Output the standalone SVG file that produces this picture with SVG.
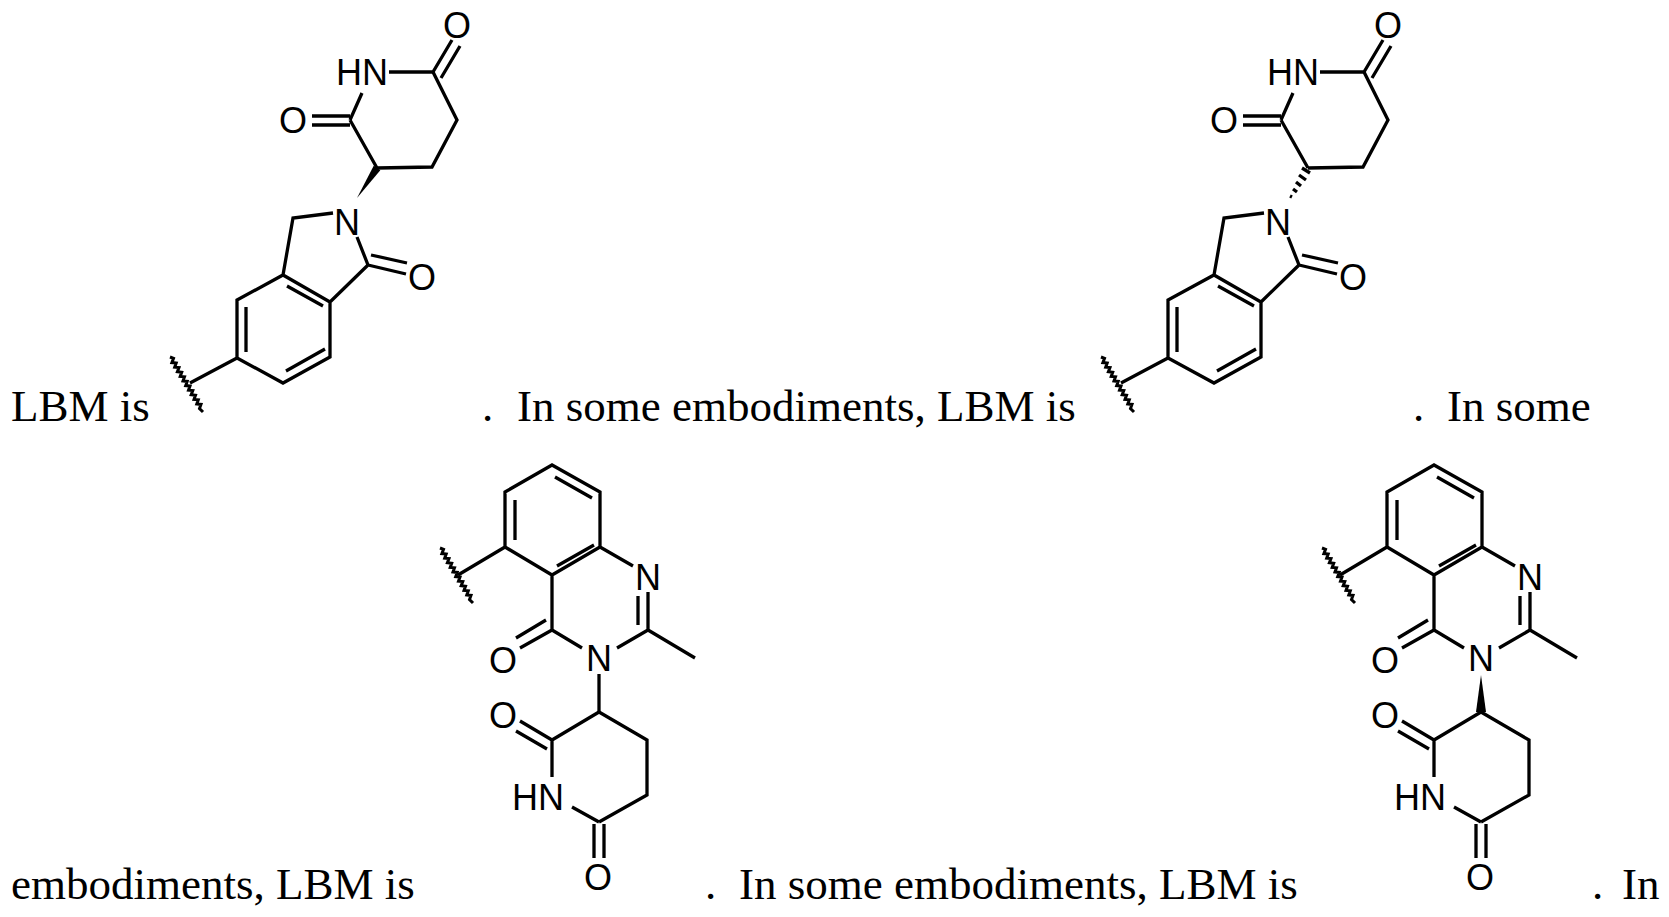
<svg xmlns="http://www.w3.org/2000/svg" xmlns:xlink="http://www.w3.org/1999/xlink" width="1669" height="917" viewBox="0 0 1669 917">
<style>
.b{stroke:#000;stroke-width:3.3;fill:none;stroke-linecap:butt}
.w{stroke:#000;stroke-width:3;fill:none}
.t{font-family:"Liberation Serif","Times New Roman",serif;font-size:45px;fill:#000}
.a{font-family:"Liberation Sans",Arial,sans-serif;font-size:36px;fill:#000;text-anchor:middle}
</style>
<defs>
<path id="wavy" class="w" d="M170,357 L173.5,358.4 L171.9,362.6 L176.2,363 L174.7,367.2 L179,367.6 L177.4,371.8 L181.7,372.2 L180.2,376.4 L184.5,376.8 L183,381 L187.2,381.4 L185.7,385.6 L190,386 L188.5,390.2 L192.8,390.6 L191.2,394.8 L195.5,395.2 L194,399.4 L198.3,399.8 L196.8,404 L201,404.4 L199.5,408.6 L203,412"/>
<g id="iso">
<use xlink:href="#wavy"/>
<path class="b" d="M237,358 L237,300 L283,275 L330,302 L330,357 L283,383 Z M246,307 L246,352 M287,286 L323,306 M325,349 L286,371 M237,358 L190,383 M283,275 L293,218 L333,213 M357,237 L368,265 L330,302 M368,265 L406,274 M371,255 L407,263 M377,168 L350,120 M312,116 L350,116 M312,125 L350,125 M350,120 L362,93 M389,72 L433,72 L457,120 L432,167 L377,168 M433,72 L452,40 M441,78 L460,46"/>
<text class="a" x="362" y="85">HN</text>
<text class="a" x="293" y="133">O</text>
<text class="a" x="457" y="38">O</text>
<text class="a" x="347" y="235">N</text>
<text class="a" x="422" y="290">O</text>
</g>
<g id="quin">
<use xlink:href="#wavy" transform="translate(270,191)"/>
<path class="b" d="M552,465 L505,492 L505,547 L552,575 L600,547 L600,492 Z M515,500 L515,540 M557,566 L594,545 M555,477 L592,498 M505,547 L458,575 M600,547 L633,566 M648,592 L648,630 M638,596 L638,625 M648,630 L695,658 M648,630 L617,648 M582,648 L552,630 L552,575 M552,630 L520,648 M546,620 L516,638 M599,712 L552,740 M552,740 L520,721 M547,749 L516,731 M552,740 L552,777 M572,807 L599,822 M594,824 L594,858 M604,824 L604,858 M599,822 L647,795 L647,740 L599,712"/>
<text class="a" x="648" y="590">N</text>
<text class="a" x="599" y="671">N</text>
<text class="a" x="503" y="673">O</text>
<text class="a" x="503" y="728">O</text>
<text class="a" x="538" y="810">HN</text>
<text class="a" x="598" y="890">O</text>
</g>
</defs>
<g id="lbm1">
<use xlink:href="#iso"/>
<polygon points="357,198 373.7,165.8 380.3,170.2" fill="#000"/>
</g>
<g id="lbm2" transform="translate(931,0)">
<use xlink:href="#iso"/>
<path class="b" stroke-width="2.2" d="M359,196 L361,197 M362,189 L366,192 M365,182 L370,186 M368,175 L375,180 M371,168 L379,173"/>
</g>
<g id="lbm3">
<use xlink:href="#quin"/>
<path class="b" d="M599,674 L599,712"/>
</g>
<g id="lbm4" transform="translate(882,0)">
<use xlink:href="#quin"/>
<polygon points="599,675 594,712 604,712" fill="#000"/>
</g>
<g id="text">
<text class="t" x="11" y="421">LBM is</text>
<text class="t" x="482" y="421">.</text>
<text class="t" x="517" y="421">In some embodiments, LBM is</text>
<text class="t" x="1413" y="421">.</text>
<text class="t" x="1447" y="421">In some</text>
<text class="t" x="11" y="899">embodiments, LBM is</text>
<text class="t" x="705" y="899">.</text>
<text class="t" x="739" y="899">In some embodiments, LBM is</text>
<text class="t" x="1592" y="899">.</text>
<text class="t" x="1622" y="899">In</text>
</g>
</svg>
